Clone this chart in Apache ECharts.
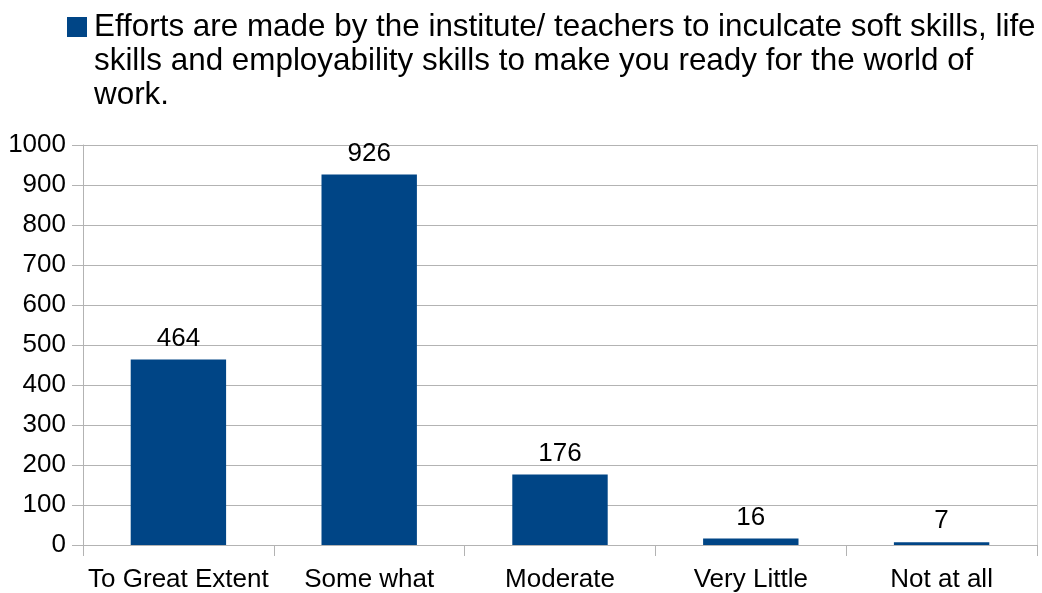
<!DOCTYPE html>
<html>
<head>
<meta charset="utf-8">
<script src="https://cdn.jsdelivr.net/npm/echarts@6/dist/echarts.min.js"></script>
<style>
html,body{margin:0;padding:0;background:#fff;}
#c{width:1042px;height:593px;}
</style>
</head>
<body>
<div id="c"></div>
<script>
const categories = ['To Great Extent', 'Some what', 'Moderate', 'Very Little', 'Not at all'];
const values = [464, 926, 176, 16, 7];
const seriesName = 'Efforts are made by the institute/ teachers to inculcate soft skills, life skills and employability skills to make you ready for the world of work.';
const legendLines = [
  'Efforts are made by the institute/ teachers to inculcate soft skills, life',
  'skills and employability skills to make you ready for the world of',
  'work.'
];
const yTicks = { min: 0, max: 1000, interval: 100 };

const FONT = '"Liberation Sans", Arial, sans-serif';
const BAR = '#004586';
const chart = echarts.init(document.getElementById('c'), null, { renderer: 'canvas' });
chart.setOption({
  backgroundColor: '#ffffff',
  animation: false,
  textStyle: { fontFamily: FONT, color: '#000' },
  legend: {
    left: 62,
    top: 10,
    padding: 0,
    itemWidth: 0,
    itemHeight: 14,
    itemGap: 0,
    selectedMode: false,
    data: [{ name: seriesName, icon: 'none' }],
    formatter: function () {
      return legendLines.map(function (l, i) {
        return (i === 0 ? '{sq|}{gap|}' : '{ind|}') + '{t|' + l + '}';
      }).join('\n');
    },
    textStyle: {
      fontFamily: FONT,
      fontSize: 31.4,
      color: '#000',
      lineHeight: 34,
      rich: {
        sq: { width: 20, height: 20, backgroundColor: BAR, lineHeight: 34 },
        gap: { width: 7, height: 20, lineHeight: 34 },
        ind: { width: 27, height: 20, lineHeight: 34 },
        t: { fontFamily: FONT, fontSize: 31.4, color: '#000', lineHeight: 34 }
      }
    }
  },
  grid: { left: 83, right: 5, top: 145, bottom: 48 },
  xAxis: {
    type: 'category',
    data: categories,
    axisLine: { show: true, lineStyle: { color: '#b3b3b3', width: 1 } },
    axisTick: { show: true, length: 11, alignWithLabel: false, lineStyle: { color: '#b3b3b3' } },
    axisLabel: { fontFamily: FONT, fontSize: 26, color: '#000', margin: 22, interval: 0 },
    splitLine: { show: false }
  },
  yAxis: [{
    type: 'value',
    min: yTicks.min,
    max: yTicks.max,
    interval: yTicks.interval,
    axisLine: { show: true, lineStyle: { color: '#b3b3b3', width: 1 } },
    axisTick: { show: true, length: 11, inside: false, lineStyle: { color: '#b3b3b3' } },
    axisLabel: { fontFamily: FONT, fontSize: 26, color: '#000', margin: 17, formatter: function (v) { return String(v); } },
    splitLine: { show: true, lineStyle: { color: '#b3b3b3', width: 1 } }
  }, {
    type: 'value',
    position: 'right',
    min: yTicks.min,
    max: yTicks.max,
    interval: yTicks.interval,
    axisLine: { show: true, lineStyle: { color: '#d0d0d0', width: 1 } },
    axisTick: { show: false },
    axisLabel: { show: false },
    splitLine: { show: false }
  }],
  series: [{
    name: seriesName,
    type: 'bar',
    data: values,
    barWidth: '50%',
    itemStyle: { color: BAR },
    label: {
      show: true,
      position: 'top',
      distance: 8,
      fontFamily: FONT,
      fontSize: 26,
      color: '#000'
    }
  }]
});
</script>
</body>
</html>
